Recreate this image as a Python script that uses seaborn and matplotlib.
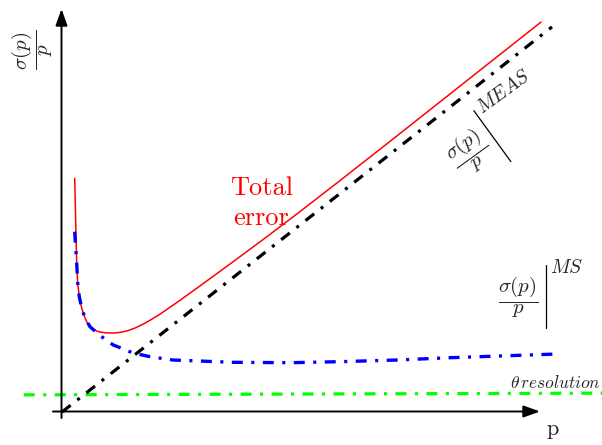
import numpy as np
import matplotlib
matplotlib.use("Agg")
import matplotlib.pyplot as plt
from matplotlib.lines import Line2D
import seaborn as sns

# Momentum p and relative resolution sigma(p)/p, arbitrary units
p_total = [0.259, 0.271, 0.286, 0.300, 0.320, 0.353, 0.402, 0.469, 0.520,
           0.571, 0.633, 0.708, 0.786, 0.878, 1.047, 1.184, 1.320, 1.490,
           1.659, 1.796, 2.000, 2.408, 2.816, 3.490, 4.184, 4.857, 5.673,
           6.694, 7.714, 9.776]
res_total = [4.769, 4.265, 3.578, 3.041, 2.633, 2.353, 2.122, 1.918, 1.812,
             1.741, 1.688, 1.653, 1.630, 1.618, 1.612, 1.624, 1.653, 1.713,
             1.794, 1.871, 1.997, 2.279, 2.573, 3.065, 3.579, 4.090, 4.722,
             5.523, 6.329, 7.958]

# multiple-scattering term
p_ms = [0.259, 0.300, 0.320, 0.353, 0.402, 0.469, 0.571, 0.694, 0.878,
        1.047, 1.218, 1.449, 1.796, 2.265, 3.490, 4.653, 5.673, 6.831,
        7.918, 10.122]
res_ms = [3.680, 3.041, 2.633, 2.353, 2.122, 1.918, 1.741, 1.633, 1.484,
          1.367, 1.300, 1.204, 1.129, 1.061, 1.014, 1.006, 1.027, 1.061,
          1.108, 1.184]

# measurement term
p_meas = [0.0, 10.0]
res_meas = [0.0, 7.86]

# angular resolution floor
p_theta = [-0.78, 11.1]
res_theta = [0.35, 0.385]

W, H = 602, 445
sns.set_theme(style="white")
plt.rcParams["mathtext.fontset"] = "cm"
plt.rcParams["lines.scale_dashes"] = False

fig = plt.figure(figsize=(W / 100, H / 100), dpi=100)
ax = fig.add_axes([0, 0, 1, 1])
ax.set_xlim(-62 / 49, 540 / 49)
ax.set_ylim(-33 / 49, 412 / 49)
ax.axis("off")

DASHDOT = (0, (7.9, 6.1, 2.2, 6.1))

sns.lineplot(x=p_theta, y=res_theta, ax=ax, color="#00ff00", lw=2.3,
             linestyle=DASHDOT, sort=False, estimator=None, errorbar=None,
             dash_capstyle="butt")
sns.lineplot(x=p_meas, y=res_meas, ax=ax, color="black", lw=2.3,
             linestyle=DASHDOT, sort=False, estimator=None, errorbar=None,
             dash_capstyle="butt")
sns.lineplot(x=p_total, y=res_total, ax=ax, color="#ff0000", lw=1.1,
             sort=False, estimator=None, errorbar=None)
sns.lineplot(x=p_ms, y=res_ms, ax=ax, color="#0000ff", lw=2.4,
             linestyle=DASHDOT, sort=False, estimator=None, errorbar=None,
             dash_capstyle="butt")


def fpos(x, y):
    """Pixel position (y downward) to figure fraction."""
    return x / W, 1 - y / H


# coordinate axes with arrow heads
arrow = dict(arrowstyle="-|>,head_length=1.0,head_width=0.36", color="black",
             lw=1.4, shrinkA=0, shrinkB=0, mutation_scale=10)
fig.add_artist(plt.Annotation("", xy=fpos(61.5, 9), xytext=fpos(61.5, 418),
                              xycoords="figure fraction",
                              textcoords="figure fraction", arrowprops=arrow))
fig.add_artist(plt.Annotation("", xy=fpos(540, 411.5), xytext=fpos(53, 411.5),
                              xycoords="figure fraction",
                              textcoords="figure fraction", arrowprops=arrow))

FRAC = r"$\dfrac{\sigma(p)}{p}$"


def delimited_label(cx, cy, sup, angle, size=15, supsize=14):
    """sigma(p)/p followed by an evaluation bar and a superscript tag."""
    a = np.deg2rad(angle)
    u = np.array([np.cos(a), -np.sin(a)])
    v = np.array([-np.sin(a), -np.cos(a)])

    def at(du, dv):
        x, y = np.array([cx, cy]) + du * u + dv * v
        return fpos(x, y)

    fig.text(*at(0, 0), FRAC, rotation=angle, rotation_mode="anchor",
             ha="center", va="center", fontsize=size)
    (x0, y0), (x1, y1) = at(28, 32), at(28, -31)
    fig.add_artist(Line2D([x0, x1], [y0, y1], transform=fig.transFigure,
                          color="black", lw=0.9))
    fig.text(*at(32, 24), "$" + sup + "$", rotation=angle,
             rotation_mode="anchor", ha="left", va="baseline",
             fontsize=supsize)


delimited_label(518, 297, "MS", 0)
delimited_label(470, 153, "MEAS", 36)

fig.text(*fpos(32, 50), FRAC, rotation=90, ha="center", va="center",
         fontsize=15)

fig.text(*fpos(262, 195), "Total", color="#ff0000", family="cmr10",
         fontsize=19, ha="center", va="baseline")
fig.text(*fpos(261, 225), "error", color="#ff0000", family="cmr10",
         fontsize=19, ha="center", va="baseline")
fig.text(*fpos(553, 435), "p", family="cmr10", fontsize=16, ha="center",
         va="baseline")
fig.text(*fpos(601, 388), r"$\theta\,resolution$", fontsize=12.5, ha="right",
         va="baseline")

fig.savefig("out.png", dpi=100)
